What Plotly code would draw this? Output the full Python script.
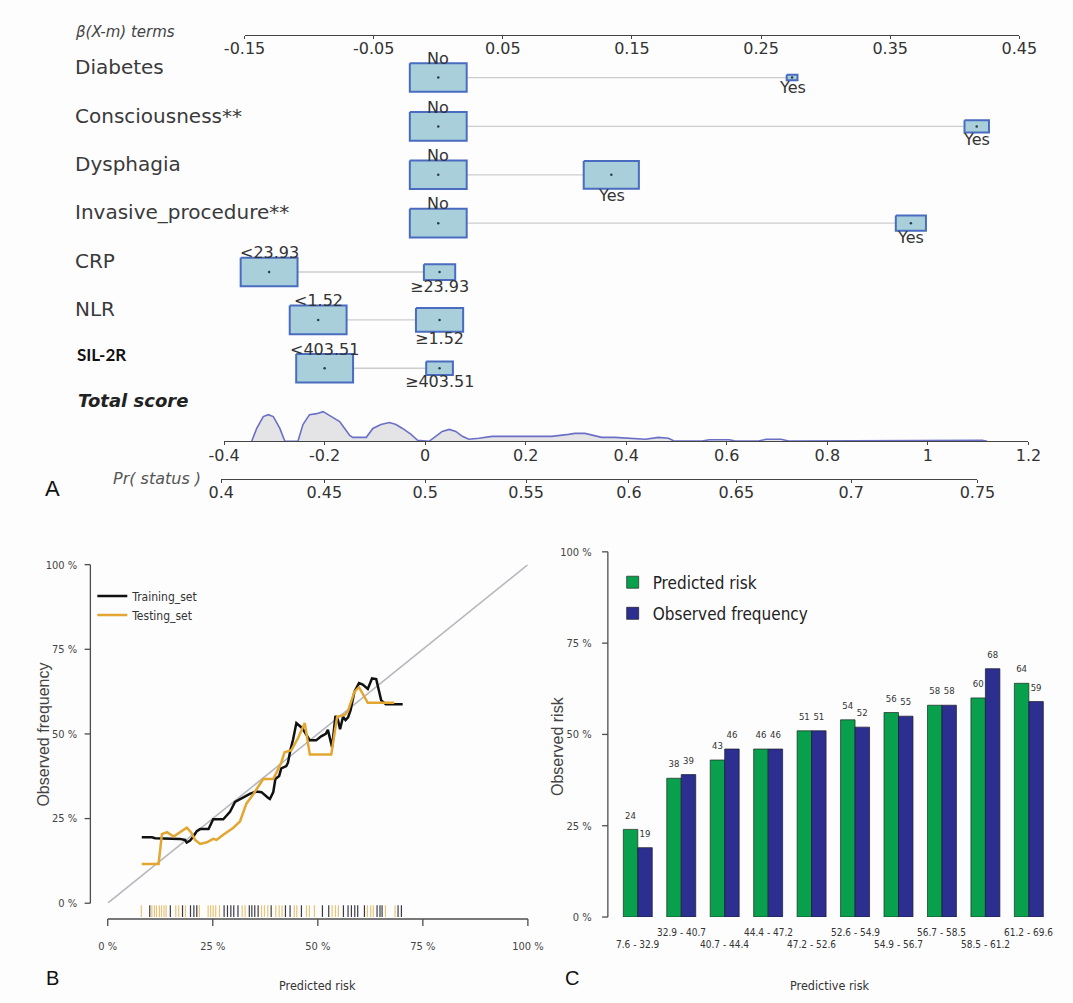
import math
import plotly.graph_objects as go

W, H = 1073, 1003

# ---------------- Panel A: nomogram ----------------
variables = ["Diabetes", "Consciousness**", "Dysphagia", "Invasive_procedure**",
             "CRP", "NLR", "SIL-2R"]
low_levels = ["No", "No", "No", "No", "<23.93", "<1.52", "<403.51"]
high_levels = ["Yes", "Yes", "Yes", "Yes", "≥23.93", "≥1.52", "≥403.51"]
low_beta = [0.0, 0.0, 0.0, 0.0, -0.131, -0.093, -0.088]
high_beta = [0.274, 0.417, 0.134, 0.366, 0.001, 0.001, 0.001]
low_share = [1.0, 1.0, 1.0, 1.0, 1.0, 1.0, 1.0]
high_share = [0.19, 0.43, 0.97, 0.53, 0.55, 0.83, 0.47]

beta_ticks = [-0.15, -0.05, 0.05, 0.15, 0.25, 0.35, 0.45]
beta_tick_text = ["-0.15", "-0.05", "0.05", "0.15", "0.25", "0.35", "0.45"]
score_ticks = [-0.4, -0.2, 0, 0.2, 0.4, 0.6, 0.8, 1, 1.2]
score_tick_text = ["-0.4", "-0.2", "0", "0.2", "0.4", "0.6", "0.8", "1", "1.2"]
prob_ticks = [0.4, 0.45, 0.5, 0.55, 0.6, 0.65, 0.7, 0.75]
prob_tick_text = ["0.4", "0.45", "0.5", "0.55", "0.6", "0.65", "0.7", "0.75"]

# distribution of the total score (relative density)
score_grid = [-0.345, -0.335, -0.322, -0.312, -0.302, -0.289, -0.279, -0.253, -0.243,
              -0.230, -0.216, -0.203, -0.193, -0.180, -0.170, -0.160, -0.150, -0.144,
              -0.117, -0.104, -0.088, -0.071, -0.058, -0.045, -0.028, -0.015, 0.008,
              0.021, 0.034, 0.048, 0.061, 0.074, 0.087, 0.107, 0.133, 0.186, 0.212,
              0.252, 0.285, 0.298, 0.318, 0.338, 0.351, 0.378, 0.424, 0.438, 0.464,
              0.484, 0.494, 0.551, 0.565, 0.605, 0.617, 0.663, 0.678, 0.708, 0.723,
              0.803, 0.815, 0.840, 0.852, 0.985, 0.995, 1.015, 1.025, 1.078, 1.088,
              1.108, 1.118]
score_density = [0, 13, 25, 27, 25, 13, 0, 0, 17, 27, 28, 30, 27, 23, 20, 13, 6, 4,
                 4, 13, 17, 19, 17, 13, 7, 1, 0, 5, 10, 12, 10, 5, 2, 3, 5, 5, 5,
                 5, 7, 8, 8, 6, 4, 4, 3, 2, 4, 3, 0.5, 0.3, 1.5, 1.5, 0.3, 0.3,
                 2, 2, 0.3, 0.3, 1, 1, 0.3, 0.3, 1, 1, 0.3, 0.3, 1, 1, 0]

# ---------------- Panel B: calibration curves ----------------
train_pred = [8.1, 10.5, 11.3, 14.1, 17.2, 18.4, 18.8, 19.6, 20.4, 21.2, 22.0, 24.0, 25.1,
              27.5, 29.1, 30.3, 31.9, 33.8, 35.4, 36.6, 38.2, 38.6, 39.4, 39.9, 40.8, 41.3,
              42.5, 42.9, 43.5, 44.1, 44.9, 46.3, 48.1, 49.6, 50.8, 51.9, 52.4, 53.0, 53.4,
              54.2, 54.8, 55.3, 56.0, 56.6, 57.2, 57.8, 58.7, 59.8, 60.7, 61.9, 62.9, 63.9,
              65.1, 66.2, 70.2]
train_obs = [19.5, 19.5, 19.2, 19.2, 19.0, 18.7, 17.9, 18.5, 19.7, 21.3, 21.9, 21.9, 24.8,
             24.8, 27.0, 29.9, 31.0, 32.3, 33.0, 32.8, 31.1, 30.8, 32.8, 36.7, 37.6, 39.8,
             40.5, 41.5, 45.4, 48.3, 53.2, 51.7, 48.1, 48.1, 49.3, 50.0, 51.2, 48.3, 46.1,
             55.3, 54.1, 51.4, 55.1, 54.1, 54.9, 57.0, 62.4, 65.0, 64.6, 63.3, 66.4, 66.2,
             59.9, 58.8, 58.8]
test_pred = [8.1, 12.1, 12.9, 14.1, 15.7, 17.2, 18.8, 19.8, 20.8, 22.0, 23.6, 25.1, 25.9,
             27.5, 29.9, 31.5, 33.0, 34.7, 35.4, 37.0, 39.4, 41.3, 42.1, 43.7, 45.3, 46.9,
             48.1, 53.2, 54.6, 56.4, 57.2, 58.7, 59.8, 61.9, 65.1, 68.2]
test_obs = [11.6, 11.6, 20.4, 21.0, 19.7, 21.0, 22.3, 21.0, 18.7, 17.5, 18.0, 19.0, 18.7,
            20.2, 22.3, 24.2, 29.4, 32.3, 33.6, 36.7, 36.7, 41.5, 44.6, 45.2, 48.8, 53.2,
            43.9, 43.9, 55.1, 55.6, 56.8, 62.4, 63.8, 59.2, 59.2, 59.2]
train_rug = [10.0, 14.9, 17.8, 19.7, 20.5, 21.2, 27.7, 28.5, 29.3, 30.0, 31.0, 33.7, 34.3,
             35.0, 35.8, 38.9, 42.3, 43.4, 46.1, 51.1, 52.6, 56.1, 57.2, 58.0, 58.8, 59.5,
             61.1, 64.1, 64.8, 65.3, 69.1, 69.9]
test_rug = [8.0, 10.5, 11.1, 11.6, 12.3, 12.8, 13.4, 13.9, 16.2, 16.9, 18.5, 21.8, 23.9,
            24.5, 25.1, 25.7, 26.6, 32.0, 32.7, 36.6, 37.3, 38.1, 40.0, 40.8, 41.5, 44.4,
            45.0, 47.3, 48.0, 49.2, 53.4, 54.2, 54.9, 61.8, 62.6, 63.2, 66.1, 68.4]
pct_ticks = [0, 25, 50, 75, 100]
pct_tick_text = ["0 %", "25 %", "50 %", "75 %", "100 %"]

# ---------------- Panel C: predicted vs observed by risk group ----------------
risk_groups = ["7.6 - 32.9", "32.9 - 40.7", "40.7 - 44.4", "44.4 - 47.2", "47.2 - 52.6",
               "52.6 - 54.9", "54.9 - 56.7", "56.7 - 58.5", "58.5 - 61.2", "61.2 - 69.6"]
predicted_risk = [24, 38, 43, 46, 51, 54, 56, 58, 60, 64]
observed_freq = [19, 39, 46, 46, 51, 52, 55, 58, 68, 59]

# ---------------- styling ----------------
DEJAVU = "DejaVu Sans, Liberation Sans, sans-serif"
SANS = "Liberation Sans, Arial, sans-serif"
NARROW = "Liberation Sans Narrow, Arial Narrow, DejaVu Sans Condensed, Liberation Sans, sans-serif"
BOX_FILL = "#a9d0da"
BOX_EDGE = "#4a6cc0"
TXT = "#333333"
AXIS_COL = "#4d4d4d"


def span(v_at, px_at, px_per_unit):
    """Axis range giving a fixed pixel scale over the full figure width."""
    return [v_at - px_at / px_per_unit, v_at + (W - px_at) / px_per_unit]


def vspan(v_at, px_at, px_per_unit):
    """Vertical axis range (full figure height) with value v_at on pixel row px_at."""
    return [v_at - (H - px_at) / px_per_unit, v_at + px_at / px_per_unit]


def ypos(px):
    return 1 - px / H


def logit(p):
    return math.log(p / (1 - p))


BETA_PX = 1340.0      # pixels per beta unit
BETA_X0 = 232         # pixel column of beta = -0.15
SCORE_PX = 521.7      # pixels per total-score unit
SCORE_X0 = 210.7      # pixel column of score = -0.4
BOX_W = 59 / BETA_PX  # full-size box width (beta units)
BOX_H = 29            # full-size box height (px rows)
ROW_Y = [72.5, 122, 171, 220, 269.5, 318, 367]


def col(px):
    """Pixel column expressed on the full-width nomogram scale."""
    return -0.15 + (px - BETA_X0) / BETA_PX


# panel B / C frames (pixels)
B_X = (90, 526)
B_Y = (909, 566)
B_AXIS_Y = 925
B_AXIS_X = 72
C_Y = (923, 553)
C_AXIS_X = 609
BAR_PX = 15.03
TICK = 6
B_XPER = (B_X[1] - B_X[0]) / 100
B_YPER = (B_Y[0] - B_Y[1]) / 100
C_YPER = (C_Y[0] - C_Y[1]) / 100


def score_px(s):
    return SCORE_X0 + (s + 0.4) * SCORE_PX


fig = go.Figure()
ann = []


def helper(xa, ya):
    # empty trace so that an axis-only subplot is always created
    fig.add_trace(go.Scatter(x=[None], y=[None], xaxis=xa, yaxis=ya, showlegend=False,
                             hoverinfo="skip"))


def frame_path(values, at, tick):
    """Axis line through the first/last value plus tick marks (value, position pairs)."""
    vs, pos = [values[0], values[-1], None], [at, at, None]
    for v in values:
        vs += [v, v, None]
        pos += [at, tick, None]
    return vs, pos


# --- nomogram rows ---
for i, name in enumerate(variables):
    cy = ROW_Y[i]
    lo_hw, hi_hw = BOX_W / 2 * low_share[i], BOX_W / 2 * high_share[i]
    lo_hh, hi_hh = BOX_H / 2 * low_share[i], BOX_H / 2 * high_share[i]
    fig.add_trace(go.Scatter(x=[low_beta[i] + lo_hw, high_beta[i] - hi_hw], y=[cy, cy],
                             mode="lines", line=dict(color="#cdcdcd", width=1.3),
                             xaxis="x", yaxis="y", showlegend=False, hoverinfo="skip"))
    for b, hw, hh in ((low_beta[i], lo_hw, lo_hh), (high_beta[i], hi_hw, hi_hh)):
        fig.add_trace(go.Scatter(x=[b - hw, b + hw, b + hw, b - hw, b - hw],
                                 y=[cy - hh, cy - hh, cy + hh, cy + hh, cy - hh],
                                 mode="lines", fill="toself", fillcolor=BOX_FILL,
                                 line=dict(color=BOX_EDGE, width=2),
                                 xaxis="x", yaxis="y", showlegend=False, hoverinfo="skip"))
    ann.append(dict(x=low_beta[i], y=cy - lo_hh - 5, xref="x", yref="y", text=low_levels[i],
                    xanchor="center", yanchor="middle", showarrow=False,
                    font=dict(family=DEJAVU, size=16, color=TXT)))
    ann.append(dict(x=high_beta[i], y=cy + hi_hh + 7, xref="x", yref="y", text=high_levels[i],
                    xanchor="center", yanchor="middle", showarrow=False,
                    font=dict(family=DEJAVU, size=16, color=TXT)))
    if name == "SIL-2R":
        ann.append(dict(x=56 / W, y=cy - 14, xref="paper", yref="y", xanchor="left",
                        yanchor="middle", text="<b>SIL-2R</b>", showarrow=False,
                        font=dict(family="Lato, Open Sans, sans-serif", size=17, color="#111")))
    else:
        ann.append(dict(x=54 / W, y=cy - 11, xref="paper", yref="y", xanchor="left",
                        yanchor="middle", text=name, showarrow=False,
                        font=dict(family=DEJAVU, size=20, color="#3a3a3a")))

fig.add_trace(go.Scatter(x=low_beta + high_beta, y=ROW_Y + ROW_Y, mode="markers",
                         marker=dict(size=2.5, color="#2a3a4a"), xaxis="x", yaxis="y",
                         showlegend=False, hoverinfo="skip"))

# --- total score density ---
fig.add_trace(go.Scatter(x=score_grid, y=score_density, mode="lines", fill="tozeroy",
                         fillcolor="#e4e4e7", line=dict(color="#6b70c6", width=1.6),
                         xaxis="x2", yaxis="y2", showlegend=False, hoverinfo="skip"))

# axis-only subplots for the three nomogram scales
helper("x6", "y6")
helper("x7", "y7")
helper("x8", "y8")

ann += [
    dict(x=54 / W, y=26, xref="paper", yref="y", xanchor="left", yanchor="middle",
         text="<i>β(X-m) terms</i>", showarrow=False,
         font=dict(family=DEJAVU, size=15, color="#444")),
    dict(x=57 / W, y=400, xref="paper", yref="y", xanchor="left", yanchor="middle",
         text="<b><i>Total score</i></b>", showarrow=False,
         font=dict(family=DEJAVU, size=18, color="#222")),
    dict(x=189 / W, y=479, xref="paper", yref="y", xanchor="right", yanchor="middle",
         text="<i>Pr( status )</i>", showarrow=False,
         font=dict(family=DEJAVU, size=16, color="#555")),
    dict(x=33 / W, y=ypos(489), xref="paper", yref="paper", xanchor="center",
         yanchor="middle", text="A", showarrow=False,
         font=dict(family=SANS, size=22, color="#111")),
]

# ---------------- Panel B ----------------
fig.add_trace(go.Scatter(x=[0, 100], y=[0, 100], mode="lines",
                         line=dict(color="#b5b8bc", width=1.6), xaxis="x4", yaxis="y4",
                         showlegend=False, hoverinfo="skip"))
fig.add_trace(go.Scatter(x=train_pred, y=train_obs, mode="lines", name="Training_set",
                         line=dict(color="#111111", width=2.5), xaxis="x4", yaxis="y4",
                         legend="legend", legendgroup="train"))
fig.add_trace(go.Scatter(x=test_pred, y=test_obs, mode="lines", name="Testing_set",
                         line=dict(color="#e3a630", width=2.5), xaxis="x4", yaxis="y4",
                         legend="legend", legendgroup="test"))
# rug of predicted risks, in a thin strip just above the x axis
fig.add_trace(go.Scatter(x=test_rug, y=[0.5] * len(test_rug), mode="markers",
                         marker=dict(symbol="line-ns-open", size=10, color="#e8c477",
                                     line=dict(color="#e8c477", width=1.2)),
                         xaxis="x12", yaxis="y12", showlegend=False, hoverinfo="skip"))
fig.add_trace(go.Scatter(x=train_rug, y=[0.5] * len(train_rug), mode="markers",
                         marker=dict(symbol="line-ns-open", size=10, color="#3a3a46",
                                     line=dict(color="#3a3a46", width=1.2)),
                         xaxis="x12", yaxis="y12", showlegend=False, hoverinfo="skip"))

# axis frames, drawn on full-figure scales that share the panel scales
bx_v, bx_p = frame_path(pct_ticks, B_AXIS_Y, B_AXIS_Y + TICK + 1)
fig.add_trace(go.Scatter(x=bx_v, y=bx_p, mode="lines", line=dict(color=AXIS_COL, width=1.3),
                         xaxis="x3", yaxis="y", showlegend=False, hoverinfo="skip"))
by_v, by_c = frame_path(pct_ticks, col(B_AXIS_X), col(B_AXIS_X - TICK))
fig.add_trace(go.Scatter(x=by_c, y=by_v, mode="lines", line=dict(color=AXIS_COL, width=1.3),
                         xaxis="x", yaxis="y9", showlegend=False, hoverinfo="skip"))
helper("x14", "y14")
helper("x15", "y15")

ann += [
    dict(x=23 / W, y=ypos(738), xref="paper", yref="paper", xanchor="center",
         yanchor="middle", text="Observed frequency", textangle=-90, showarrow=False,
         font=dict(family=SANS, size=16, color="#444")),
    dict(x=308 / W, y=ypos(992), xref="paper", yref="paper", xanchor="center",
         yanchor="middle", text="Predicted risk", showarrow=False,
         font=dict(family=NARROW, size=12.5, color="#333")),
    dict(x=33 / W, y=ypos(985), xref="paper", yref="paper", xanchor="center",
         yanchor="middle", text="B", showarrow=False,
         font=dict(family=SANS, size=20, color="#111")),
]

# ---------------- Panel C ----------------
green_x = [1.5 + 3 * k for k in range(len(risk_groups))]
blue_x = [2.5 + 3 * k for k in range(len(risk_groups))]
fig.add_trace(go.Bar(x=green_x, y=predicted_risk, width=1, name="Predicted risk",
                     marker=dict(color="#08a04c", line=dict(color="#1d2a20", width=0.7)),
                     xaxis="x5", yaxis="y5", legend="legend2", legendgroup="pred"))
fig.add_trace(go.Bar(x=blue_x, y=observed_freq, width=1, name="Observed frequency",
                     marker=dict(color="#2c2f8f", line=dict(color="#1a1a2a", width=0.7)),
                     xaxis="x5", yaxis="y5", legend="legend2", legendgroup="obs"))
for xs, ys in ((green_x, predicted_risk), (blue_x, observed_freq)):
    fig.add_trace(go.Scatter(x=xs, y=ys, mode="markers+text", text=[str(v) for v in ys],
                             textposition="top center", marker=dict(size=12, opacity=0),
                             textfont=dict(family=NARROW, size=9.5, color="#333"),
                             xaxis="x5", yaxis="y5", showlegend=False, hoverinfo="skip"))
cy_v, cy_c = frame_path(pct_ticks, col(C_AXIS_X), col(C_AXIS_X - TICK))
fig.add_trace(go.Scatter(x=cy_c, y=cy_v, mode="lines", line=dict(color=AXIS_COL, width=1.3),
                         xaxis="x", yaxis="y10", showlegend=False, hoverinfo="skip"))
helper("x16", "y16")
for k, lab in enumerate(risk_groups):
    ann.append(dict(x=2 + 3 * k, y=ypos(951 if k % 2 == 0 else 939), xref="x5", yref="paper",
                    xanchor="center", yanchor="middle", text=lab, showarrow=False,
                    font=dict(family=NARROW, size=10, color="#333")))

ann += [
    dict(x=557 / W, y=ypos(750), xref="paper", yref="paper", xanchor="center",
         yanchor="middle", text="Observed risk", textangle=-90, showarrow=False,
         font=dict(family=SANS, size=16, color="#444")),
    dict(x=839 / W, y=ypos(992), xref="paper", yref="paper", xanchor="center",
         yanchor="middle", text="Predictive risk", showarrow=False,
         font=dict(family=NARROW, size=12.5, color="#333")),
    dict(x=572 / W, y=ypos(985), xref="paper", yref="paper", xanchor="center",
         yanchor="middle", text="C", showarrow=False,
         font=dict(family=SANS, size=20, color="#111")),
]

# ---------------- axes ----------------
hidden = dict(visible=False, showgrid=False, zeroline=False)
nomo_axis = dict(showgrid=False, zeroline=False, showline=True, linecolor="#444",
                 linewidth=1.3, ticks="outside", ticklen=3, tickcolor="#444", tickwidth=1,
                 ticklabelstandoff=-4, tickfont=dict(family=DEJAVU, size=16, color=TXT))
# percentage tick labels (the frames themselves are traces)
pct_label = dict(range=[0, 100], tickvals=pct_ticks, ticktext=pct_tick_text, showgrid=False,
                 zeroline=False, showline=False, ticks="outside", tickcolor="rgba(0,0,0,0)",
                 tickfont=dict(family=NARROW, size=11, color="#444"))

p_lo, p_hi = logit(prob_ticks[0]), logit(prob_ticks[-1])
bx_dom = [B_X[0] / W, B_X[1] / W]
by_dom = [ypos(B_Y[0]), ypos(B_Y[1])]
cy_dom = [ypos(C_Y[0]), ypos(C_Y[1])]
b_xstrip = [ypos(B_AXIS_Y), ypos(B_AXIS_Y - 4)]
b_ystrip = [B_AXIS_X / W, (B_AXIS_X + 4) / W]
c_ystrip = [C_AXIS_X / W, (C_AXIS_X + 4) / W]

fig.update_layout(
    width=W, height=H, margin=dict(l=0, r=0, t=0, b=0),
    paper_bgcolor="#fdfdfe", plot_bgcolor="rgba(0,0,0,0)",
    barmode="overlay", annotations=ann,
    # nomogram drawing space: beta units across, pixel rows down
    xaxis=dict(domain=[0, 1], range=span(-0.15, BETA_X0, BETA_PX), anchor="y", **hidden),
    yaxis=dict(domain=[0, 1], range=[H, 0], anchor="x", **hidden),
    # total-score density
    xaxis2=dict(domain=[0, 1], range=span(-0.4, SCORE_X0, SCORE_PX), anchor="y2", **hidden),
    yaxis2=dict(domain=[ypos(446), ypos(396)], range=[-5, 45], anchor="x2", **hidden),
    # panel B percentage scale across the whole width (for the x-axis frame)
    xaxis3=dict(domain=[0, 1], range=span(0, B_X[0], B_XPER), anchor="y", **hidden),
    # panel B / C percentage scales over the whole height (for the y-axis frames)
    yaxis9=dict(domain=[0, 1], range=vspan(0, B_Y[0], B_YPER), anchor="x", **hidden),
    yaxis10=dict(domain=[0, 1], range=vspan(0, C_Y[0], C_YPER), anchor="x", **hidden),
    # beta scale
    xaxis6=dict(domain=[BETA_X0 / W, (BETA_X0 + 0.6 * BETA_PX) / W], range=[-0.15, 0.45],
                anchor="y6", tickvals=beta_ticks, ticktext=beta_tick_text, **nomo_axis),
    yaxis6=dict(domain=[ypos(29), ypos(25)], range=[0, 1], anchor="x6", **hidden),
    # total-score scale
    xaxis7=dict(domain=[score_px(-0.4) / W, score_px(1.2) / W], range=[-0.4, 1.2],
                anchor="y7", tickvals=score_ticks, ticktext=score_tick_text, **nomo_axis),
    yaxis7=dict(domain=[ypos(441), ypos(437)], range=[0, 1], anchor="x7", **hidden),
    # probability scale
    xaxis8=dict(domain=[score_px(p_lo) / W, score_px(p_hi) / W], range=[p_lo, p_hi],
                anchor="y8", tickvals=[logit(p) for p in prob_ticks],
                ticktext=prob_tick_text, **nomo_axis),
    yaxis8=dict(domain=[ypos(479), ypos(475)], range=[0, 1], anchor="x8", **hidden),
    # panel B data space
    xaxis4=dict(domain=bx_dom, range=[0, 100], anchor="y4", **hidden),
    yaxis4=dict(domain=by_dom, range=[0, 100], anchor="x4", **hidden),
    # panel B tick labels
    xaxis14=dict(domain=bx_dom, anchor="y14", ticklen=17, **pct_label),
    yaxis14=dict(domain=b_xstrip, range=[0, 1], anchor="x14", **hidden),
    yaxis15=dict(domain=by_dom, anchor="x15", ticklen=10, **pct_label),
    xaxis15=dict(domain=b_ystrip, range=[0, 1], anchor="y15", **hidden),
    # panel B rug strip
    xaxis12=dict(domain=bx_dom, range=[0, 100], anchor="y12", **hidden),
    yaxis12=dict(domain=[ypos(923), ypos(911)], range=[0, 1], anchor="x12", **hidden),
    # panel C data space
    xaxis5=dict(domain=[C_AXIS_X / W, 1], range=[-1 / BAR_PX, (W - 610) / BAR_PX],
                anchor="y5", **hidden),
    yaxis5=dict(domain=cy_dom, range=[0, 100], anchor="x5", **hidden),
    # panel C tick labels
    yaxis16=dict(domain=cy_dom, anchor="x16", ticklen=13, **pct_label),
    xaxis16=dict(domain=c_ystrip, range=[0, 1], anchor="y16", **hidden),
    legend=dict(x=74 / W, y=ypos(583), xanchor="left", yanchor="top",
                bgcolor="rgba(0,0,0,0)", font=dict(family=NARROW, size=12, color="#333"),
                itemwidth=30, tracegroupgap=0),
    legend2=dict(x=614 / W, y=ypos(566), xanchor="left", yanchor="top",
                 bgcolor="rgba(0,0,0,0)", font=dict(family=NARROW, size=17, color="#222"),
                 itemwidth=30, tracegroupgap=6),
)

fig.write_html("out.html")
